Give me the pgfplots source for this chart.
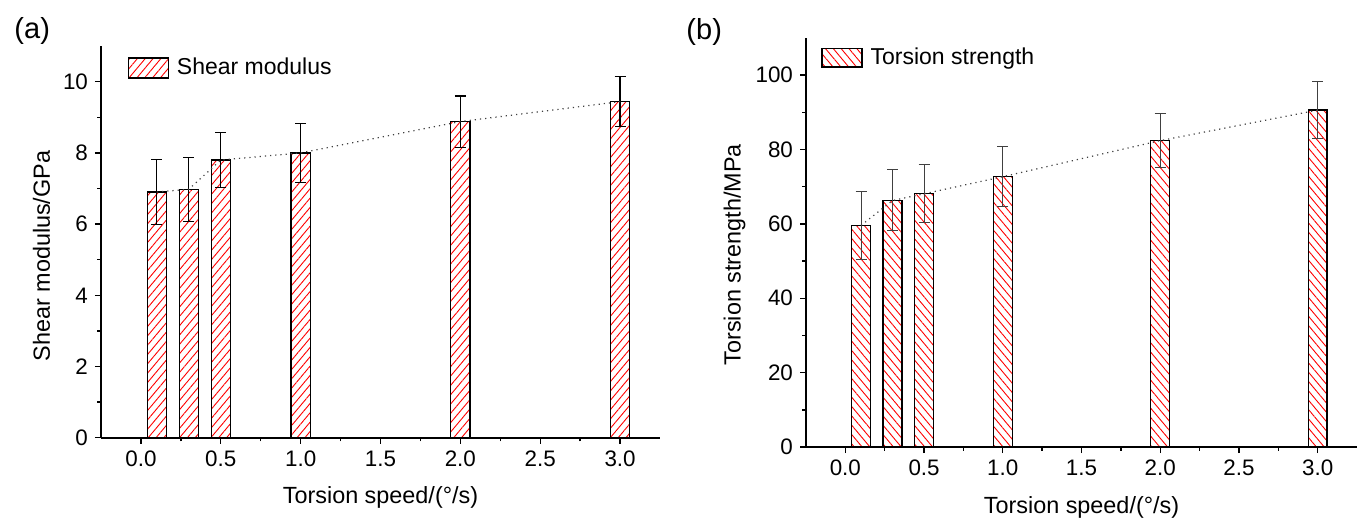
\documentclass[border=0pt]{standalone}
\usepackage{pgfplots}
\pgfplotsset{compat=1.18}
\usepackage{pgfplotstable}
\usepackage{fontspec}
\setmainfont{Liberation Sans}
\usetikzlibrary{patterns.meta}

\pgfplotstableread{
x y e
0.1 6.90 0.92
0.3 6.98 0.90
0.5 7.80 0.78
1.0 8.00 0.83
2.0 8.88 0.72
3.0 9.44 0.70
}\dataA

\pgfplotstableread{
x y e
0.1 59.6 9.1
0.3 66.3 8.2
0.5 68.1 7.8
1.0 72.7 8.0
2.0 82.4 7.3
3.0 90.6 7.6
}\dataB

\pgfplotsset{
  panel/.style={
    scale only axis,
    axis lines=left,
    axis line style={-, line width=0.8pt, black},
    xmin=-0.25, xmax=3.25,
    xtick={0,0.5,...,3.0},
    minor x tick num=1,
    minor y tick num=1,
    tick align=outside,
    major tick length=3pt,
    minor tick length=1.8pt,
    every tick/.style={line width=0.7pt, black},
    /pgf/number format/assume math mode=true,
    tick label style={font=\fontsize{11.2}{13}\selectfont},
    xticklabel style={/pgf/number format/.cd, fixed, fixed zerofill, precision=1},
    yticklabel style={/pgf/number format/.cd, fixed},
    label style={font=\fontsize{11.7}{13}\selectfont},
    xlabel style={at={(axis description cs:0.5,0)}, anchor=center, yshift=-30pt},
    legend style={draw=none, fill=none, font=\fontsize{11.5}{13}\selectfont, legend cell align=left, nodes={inner sep=1.5pt},
      /tikz/every odd column/.append style={column sep=2.5pt}},
    clip=false,
  }
}

\begin{document}
\begin{tikzpicture}
\useasboundingbox (0,0) rectangle (680.5pt,260.5pt);

\begin{axis}[panel,
  at={(50.5pt,41.65pt)}, anchor=south west,
  width=279.5pt, height=195.8pt,
  ymin=0, ymax=11,
  ytick={0,2,...,10},
  xlabel={Torsion speed/(°/s)},
  ylabel={Shear modulus/GPa},
  ylabel style={at={(axis description cs:-0.1064,0.464)}, anchor=center},
  legend style={at={(0.036,0.944)}, anchor=west},
]
\addplot[ybar, bar width=0.12, draw=black, line width=0.7pt,
  pattern={Lines[angle=50,distance=3pt,line width=0.45pt]}, pattern color=red,
  /pgfplots/legend image code/.code={\draw[draw=black, line width=0.7pt, pattern={Lines[angle=50,distance=3pt,line width=0.45pt]}, pattern color=red] (0pt,-5pt) rectangle (20pt,5pt);},
  error bars/.cd, y dir=both, y explicit,
  error bar style={line width=0.6pt, black},
  error mark options={rotate=90, mark size=2.75pt, line width=0.6pt, black}]
  table[x=x, y=y, y error=e] {\dataA};
\addlegendentry{Shear modulus}
\addplot[forget plot, black!75, dotted, line width=0.6pt, mark=none] table[x=x, y=y] {\dataA};
\end{axis}

\begin{axis}[panel,
  at={(403pt,37pt)}, anchor=south west,
  width=275.5pt, height=204.5pt,
  ymin=0, ymax=110,
  ytick={0,20,...,100},
  xlabel={Torsion speed/(°/s)},
  ylabel={Torsion strength/MPa},
  ylabel style={at={(axis description cs:-0.1296,0.47)}, anchor=center},
  legend style={at={(0.016,0.952)}, anchor=west},
]
\addplot[ybar, bar width=0.12, draw=black, line width=0.7pt,
  pattern={Lines[angle=-50,distance=3pt,line width=0.45pt]}, pattern color=red,
  /pgfplots/legend image code/.code={\draw[draw=black, line width=0.7pt, pattern={Lines[angle=-50,distance=3pt,line width=0.45pt]}, pattern color=red] (0pt,-4.6pt) rectangle (20pt,4.6pt);},
  error bars/.cd, y dir=both, y explicit,
  error bar style={line width=0.5pt, black!75},
  error mark options={rotate=90, mark size=2.75pt, line width=0.5pt, black!75}]
  table[x=x, y=y, y error=e] {\dataB};
\addlegendentry{Torsion strength}
\addplot[forget plot, black!75, dotted, line width=0.6pt, mark=none] table[x=x, y=y] {\dataB};
\end{axis}

\node[font=\fontsize{14.5}{16}\selectfont] at (16.1pt,245.1pt) {(a)};
\node[font=\fontsize{14.5}{16}\selectfont] at (352.1pt,244.65pt) {(b)};
\end{tikzpicture}
\end{document}
